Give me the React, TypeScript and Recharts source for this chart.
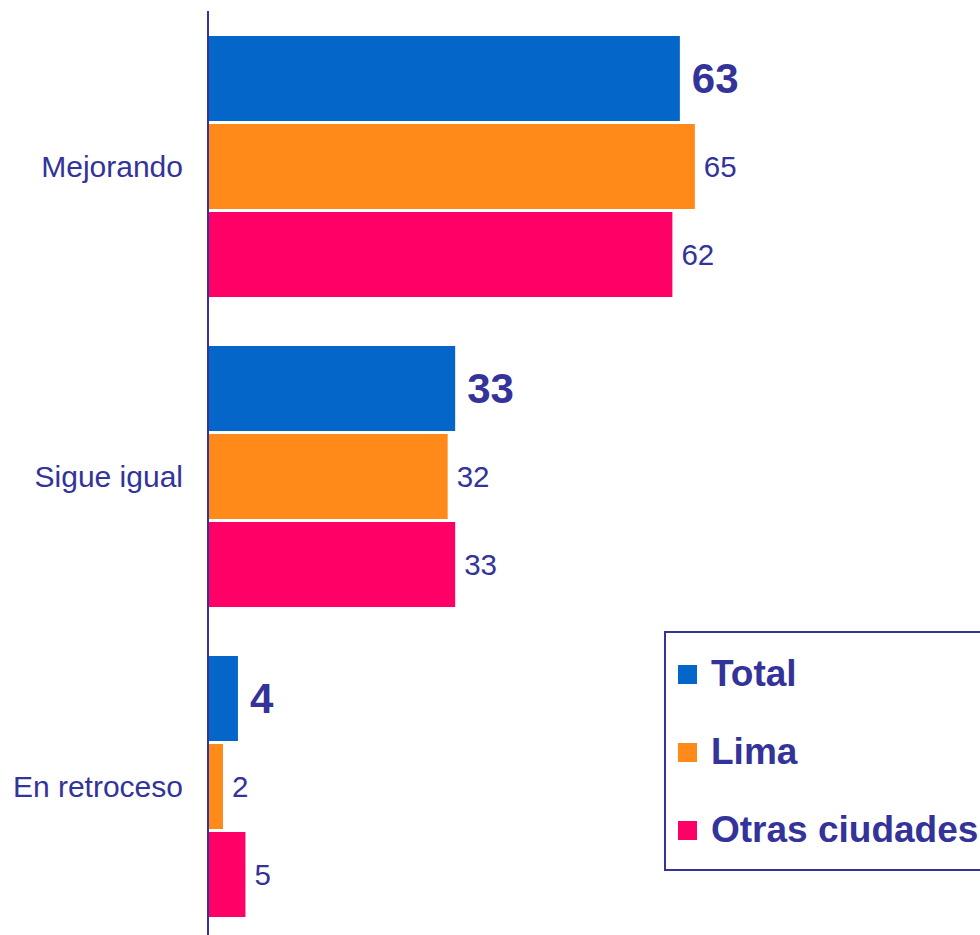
import { BarChart, Bar, XAxis, YAxis, LabelList } from "recharts"

const categories = ["Mejorando", "Sigue igual", "En retroceso"]
const totalValues = [63, 33, 4]
const limaValues = [65, 32, 2]
const otrasValues = [62, 33, 5]

const seriesNames = ["Total", "Lima", "Otras ciudades"]

const INK = "#333399"
const FONT = "Arial, 'Liberation Sans', sans-serif"

const series = [
  { key: "total", name: seriesNames[0], color: "#0566CA", bold: true },
  { key: "lima", name: seriesNames[1], color: "#FF8A19", bold: false },
  { key: "otras", name: seriesNames[2], color: "#FF0066", bold: false },
]

const data = categories.map((cat, i) => ({
  cat,
  total: totalValues[i],
  lima: limaValues[i],
  otras: otrasValues[i],
}))

function makeLabel(bold: boolean) {
  return (props: any) => {
    const { x, y, width, height, value } = props
    return (
      <text
        x={Number(x) + Number(width) + (bold ? 12 : 9)}
        y={Number(y) + Number(height) / 2}
        fill={INK}
        fontFamily={FONT}
        fontSize={bold ? 42 : 29.5}
        fontWeight={bold ? "bold" : "normal"}
        dominantBaseline="central"
      >
        {value}
      </text>
    )
  }
}

export default function App() {
  return (
    <div
      style={{
        position: "absolute",
        left: 0,
        top: 0,
        width: 980,
        height: 935,
        overflow: "hidden",
        background: "#fff",
        fontFamily: FONT,
      }}
    >
      <BarChart
        width={980}
        height={941}
        data={data}
        layout="vertical"
        margin={{ top: 11, right: 23, bottom: 0, left: 0 }}
        barSize={85}
        barGap={3}
      >
        <XAxis type="number" domain={[0, 100]} hide />
        <YAxis
          type="category"
          dataKey="cat"
          width={208}
          axisLine={{ stroke: INK, strokeWidth: 2 }}
          tickLine={false}
          tickSize={0}
          tickMargin={25}
          tick={{ fill: INK, fontSize: 30, fontFamily: FONT }}
        />
        {series.map((s) => (
          <Bar key={s.key} dataKey={s.key} fill={s.color} isAnimationActive={false}>
            <LabelList dataKey={s.key} content={makeLabel(s.bold)} />
          </Bar>
        ))}
      </BarChart>
      <div
        style={{
          position: "absolute",
          left: 664,
          top: 631,
          width: 340,
          height: 240,
          border: `2px solid ${INK}`,
          boxSizing: "border-box",
          background: "#fff",
        }}
      >
        {series.map((s, i) => (
          <div
            key={s.key}
            style={{
              position: "absolute",
              left: 12,
              top: 21 + i * 78,
              height: 40,
              display: "flex",
              alignItems: "center",
              whiteSpace: "nowrap",
            }}
          >
            <div style={{ width: 19, height: 19, background: s.color, marginRight: 14 }} />
            <span style={{ color: INK, fontSize: 37, fontWeight: "bold", lineHeight: "40px" }}>{s.name}</span>
          </div>
        ))}
      </div>
    </div>
  )
}
